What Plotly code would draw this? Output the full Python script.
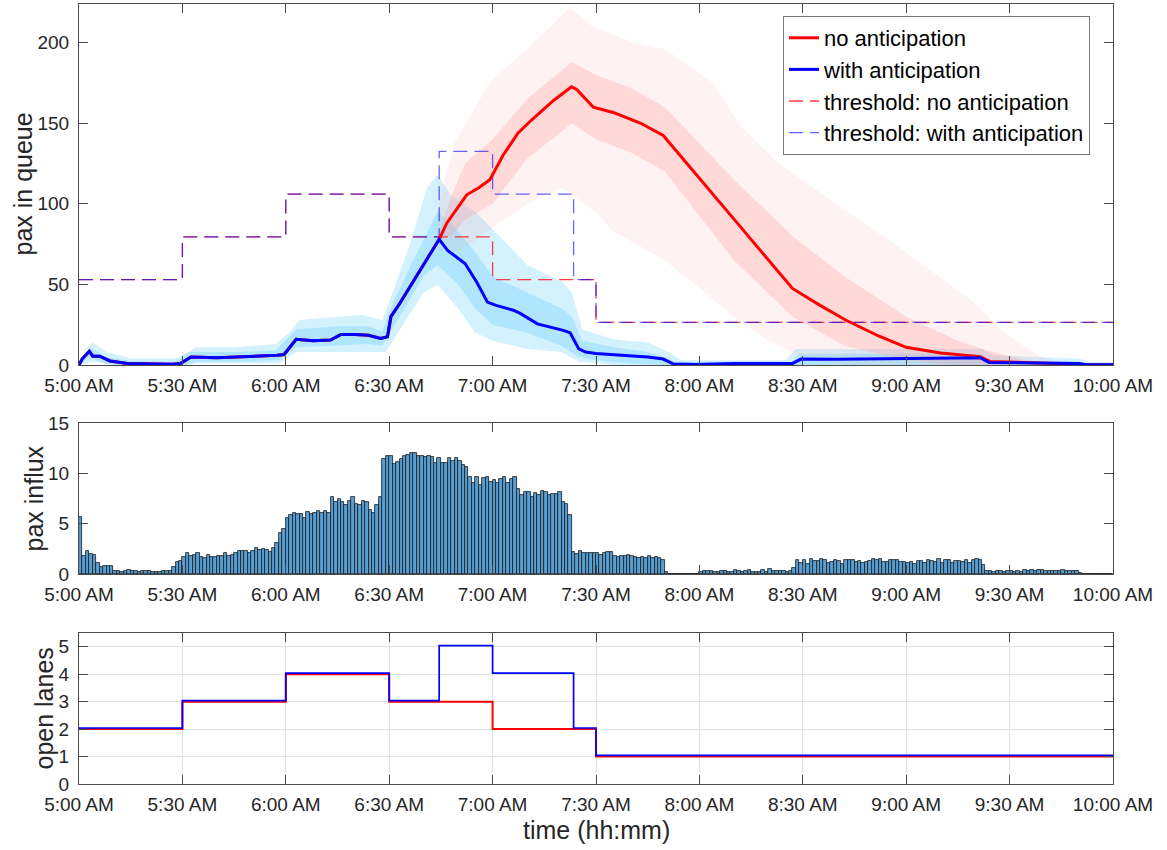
import plotly.graph_objects as go

# ---------------- data ----------------
tick_vals = [0, 30, 60, 90, 120, 150, 180, 210, 240, 270, 300]
tick_text = ["5:00 AM", "5:30 AM", "6:00 AM", "6:30 AM", "7:00 AM", "7:30 AM",
             "8:00 AM", "8:30 AM", "9:00 AM", "9:30 AM", "10:00 AM"]

# mean queue length (minutes after 5:00 AM, pax) - common part before 6:45
t_common = [0, 1, 3, 4, 6, 9, 14, 20, 27, 29.5, 32.5, 40, 45, 50, 57.5, 59.5, 63, 68, 73,
            76, 80, 84, 87.5, 89.5, 90.5, 93, 104.5]
q_common = [0, 4, 8.5, 5.5, 5.5, 2.5, 1, 0.7, 0.5, 1, 5, 4.5, 4.8, 5.5, 6, 6.5, 16, 15, 15.5,
            19, 19, 18.5, 16.5, 17.5, 30, 38, 78]
# with anticipation, after 6:45
t_with_tail = [107, 112, 115.5, 118.5, 121, 126, 128, 133, 140.5, 142.5, 145, 147, 150, 155,
               165, 169.5, 172.5, 179, 190, 207, 209.5, 220, 240, 261.5, 264, 275, 290, 292.5, 300]
q_with_tail = [71, 63, 51, 39, 37, 34, 32, 25.5, 21.5, 20, 10, 8, 7.2, 6.4,
               5, 3.7, 0.6, 0.3, 1, 1, 3.7, 3.5, 4.2, 4.5, 1.6, 1.2, 1, 0.2, 0.2]
# no anticipation, after 6:45
t_no_tail = [106.7, 112.5, 116, 119.2, 123, 127.4, 131.3, 137.6, 142.9, 144.4, 149.2, 155,
             163, 169.5, 191.8, 207, 215, 222.7, 232, 240, 250, 261.4, 264.3, 277, 290, 292, 300]
q_no_tail = [88, 105.6, 110, 115, 130, 144, 152, 164, 172.6, 171, 160, 156.7,
             150, 142.4, 86, 47.5, 37, 27.6, 18, 11, 7.5, 5.2, 2.2, 1.5, 0.5, 0.1, 0.1]

# spread of simulated runs (with anticipation) - outer and dense core envelopes
bw_out_up_t = [0, 2, 4, 8, 15, 28, 31, 34, 45, 57, 61, 64, 75, 82, 88, 91, 96, 101, 104, 108,
               115, 122, 130, 140, 143, 146, 155, 165, 171, 175, 205, 208, 262, 265, 290, 293, 300]
bw_out_up = [0, 10, 14, 8, 4, 4, 7, 11, 11, 13, 20, 28, 30, 31, 28, 45, 75, 110, 118, 105,
             95, 80, 62, 52, 45, 22, 16, 14, 8, 3, 3, 10, 10, 6, 4, 2, 2]
bw_out_lo_t = [0, 4, 8, 12, 31, 34, 45, 58, 63, 75, 86, 89, 92, 100, 104, 110, 115, 120, 130,
               140, 145, 150, 155, 300]
bw_out_lo = [0, 2, 1, 0, 0, 1, 1, 1, 8, 8, 8, 8, 18, 45, 50, 35, 20, 15, 10, 8, 2, 1, 0, 0]
bw_in_up_t = [0, 3, 8, 15, 28, 32, 45, 57, 63, 75, 84, 88, 91, 97, 104, 108, 115, 120, 130,
              140, 143, 146, 155, 165, 170, 173, 207, 209, 262, 264, 290, 293, 300]
bw_in_up = [0, 11, 5, 2.5, 2, 8, 8, 9, 22, 24, 24, 21, 38, 65, 95, 88, 70, 55, 45,
            35, 30, 15, 11, 8, 5, 2, 2, 7, 7, 3, 2, 0.5, 0.5]
bw_in_lo_t = [0, 3, 8, 12, 31, 34, 45, 58, 63, 75, 84, 88, 91, 100, 104, 110, 115, 120, 130,
              140, 145, 150, 160, 170, 300]
bw_in_lo = [0, 5, 0.5, 0, 0, 2, 2, 3, 11, 12, 13, 12, 23, 55, 62, 50, 35, 25, 20,
            12, 5, 3, 1, 0, 0]

# spread of simulated runs (no anticipation)
bn_out_up_t = [104, 106, 109, 119, 131, 142.5, 149, 161, 170, 184, 192, 203, 221, 240, 259,
               269, 279, 288]
bn_out_up = [95, 115, 138, 175, 198, 222, 210, 200, 196, 175, 148, 125, 98, 70, 40, 19, 5, 0.5]
bn_out_lo_t = [104, 110, 120, 130, 140, 150, 155, 170, 180, 190, 200, 207, 215, 225, 288]
bn_out_lo = [72, 70, 85, 100, 110, 95, 83, 65, 48, 30, 15, 8, 2, 0, 0]
bn_in_up_t = [104, 108, 112, 120, 130, 143, 150, 160, 170, 190, 207, 222, 240, 255, 265, 275, 285]
bn_in_up = [78, 105, 125, 140, 165, 188, 180, 172, 160, 115, 80, 55, 30, 15, 8, 3, 0.5]
bn_in_lo_t = [104, 108, 112, 120, 130, 143, 150, 160, 170, 190, 207, 222, 240, 250, 260, 285]
bn_in_lo = [78, 80, 90, 100, 128, 150, 140, 132, 120, 65, 30, 12, 3, 0.5, 0, 0]

# thresholds and open lanes (step functions)
t_steps_no = [0, 30, 60, 90, 120, 150, 300]
thr_no = [53, 79.5, 106, 79.5, 53, 26.5, 26.5]
lanes_no = [2, 3, 4, 3, 2, 1, 1]
t_steps_with = [0, 30, 60, 90, 104.5, 120, 143.5, 150, 300]
thr_with = [53, 79.5, 106, 79.5, 132.5, 106, 53, 26.5, 26.5]
lanes_with = [2, 3, 4, 3, 5, 4, 2, 1, 1]

# passenger influx per minute (minutes 0..299)
influx = [
    5.67, 1.8, 2.27, 2.0, 1.9, 1.1, 0.73, 0.77, 0.77, 0.77,
    0.3, 0.3, 0.23, 0.33, 0.4, 0.3, 0.3, 0.23, 0.3, 0.27,
    0.3, 0.2, 0.2, 0.23, 0.3, 0.3, 0.27, 0.67, 1.17, 1.33,
    1.73, 2.1, 1.83, 1.9, 2.1, 1.67, 1.6, 1.9, 1.73, 1.73,
    1.8, 1.8, 2.07, 1.83, 1.9, 2.13, 2.3, 2.33, 2.33, 2.13,
    2.33, 2.57, 2.4, 2.5, 2.4, 2.23, 2.6, 3.07, 4.07, 4.43,
    5.6, 5.9, 6.1, 5.93, 5.93, 5.6, 6.17, 6.0, 6.07, 6.27,
    6.1, 6.27, 6.07, 7.6, 7.17, 7.43, 7.17, 6.9, 7.27, 7.6,
    7.0, 6.9, 7.27, 7.17, 6.33, 6.1, 6.9, 7.6, 11.43, 11.73,
    11.73, 10.9, 11.1, 11.43, 11.73, 11.83, 12.0, 12.07, 11.73, 11.77,
    11.6, 11.77, 11.67, 11.0, 11.5, 11.07, 11.07, 11.57, 11.27, 11.57,
    11.27, 10.83, 10.6, 9.67, 9.0, 9.67, 8.83, 9.5, 9.67, 9.17,
    9.33, 9.0, 9.43, 9.6, 9.0, 9.43, 9.67, 8.43, 7.83, 8.17,
    8.1, 7.6, 8.07, 7.83, 8.27, 8.17, 7.83, 7.9, 7.9, 8.1,
    7.17, 7.0, 5.83, 2.17, 2.0, 2.27, 2.1, 2.1, 2.1, 2.07,
    2.07, 1.9, 2.07, 2.17, 2.23, 1.77, 1.73, 1.8, 1.8, 1.9,
    1.77, 1.67, 1.6, 1.67, 1.6, 1.8, 1.6, 1.7, 1.6, 1.43,
    0.17, 0, 0, 0, 0, 0, 0, 0, 0, 0,
    0.23, 0.33, 0.27, 0.3, 0.23, 0.17, 0.3, 0.3, 0.23, 0.23,
    0.4, 0.3, 0.23, 0.3, 0.4, 0.23, 0.23, 0.23, 0.4, 0.23,
    0.5, 0.27, 0.3, 0.3, 0.3, 0.23, 0.3, 0.6, 1.4, 1.1,
    1.37, 1.03, 1.5, 1.33, 1.33, 1.5, 1.37, 1.13, 1.23, 1.37,
    1.3, 1.0, 1.37, 1.37, 1.37, 1.17, 1.3, 1.13, 1.23, 1.3,
    1.5, 1.43, 1.47, 1.23, 1.23, 1.4, 1.4, 1.37, 1.2, 1.2,
    1.13, 1.17, 1.0, 1.27, 1.3, 1.13, 1.37, 1.3, 1.23, 1.5,
    1.13, 1.37, 1.37, 1.13, 1.27, 1.27, 1.23, 1.4, 1.1, 1.4,
    1.47, 1.4, 0.9, 0.3, 0.3, 0.23, 0.3, 0.3, 0.23, 0.27,
    0.27, 0.23, 0.3, 0.23, 0.4, 0.33, 0.43, 0.33, 0.43, 0.37,
    0.27, 0.27, 0.27, 0.33, 0.33, 0.4, 0.33, 0.33, 0.33, 0.27,
    0.07, 0, 0, 0, 0, 0, 0, 0, 0, 0,
]
influx_t = [m + 0.5 for m in range(len(influx))]

# ---------------- figure ----------------
FONT = "Liberation Sans, Arial, Helvetica, sans-serif"
TXT = "#262626"
W, H = 1167, 850
ML, MR, MT, MB = 79, 54, 4, 66
plot_h = H - MT - MB


def dom(y_top_px, y_bot_px):
    return [(H - MB - y_bot_px) / plot_h, (H - MB - y_top_px) / plot_h]


d_top = dom(4, 365)
d_mid = dom(423, 574)
d_bot = dom(633, 784)

fig = go.Figure()


def band(tu, vu, tl, vl, color, xa, ya):
    fig.add_trace(go.Scatter(x=tu + tl[::-1], y=vu + vl[::-1], fill="toself",
                             fillcolor=color, line=dict(width=0), mode="lines",
                             hoverinfo="skip", showlegend=False, xaxis=xa, yaxis=ya))


# clouds of simulated runs
band(bw_out_up_t, bw_out_up, bw_out_lo_t, bw_out_lo, "rgba(160,225,252,0.45)", "x", "y")
band(bw_in_up_t, bw_in_up, bw_in_lo_t, bw_in_lo, "rgba(160,225,252,0.7)", "x", "y")
band(bn_out_up_t, bn_out_up, bn_out_lo_t, bn_out_lo, "rgba(255,150,150,0.12)", "x", "y")
band(bn_in_up_t, bn_in_up, bn_in_lo_t, bn_in_lo, "rgba(255,150,150,0.28)", "x", "y")

# thresholds
fig.add_trace(go.Scatter(x=t_steps_no, y=thr_no, mode="lines", line_shape="hv",
                         line=dict(color="rgba(255,0,0,0.75)", width=1.3, dash="14px,7px"),
                         name="threshold: no anticipation", legendrank=3,
                         xaxis="x", yaxis="y"))
fig.add_trace(go.Scatter(x=t_steps_with, y=thr_with, mode="lines", line_shape="hv",
                         line=dict(color="rgba(0,0,255,0.6)", width=1.3, dash="14px,7px"),
                         name="threshold: with anticipation", legendrank=4,
                         xaxis="x", yaxis="y"))
# mean lines
fig.add_trace(go.Scatter(x=t_common + t_no_tail, y=q_common + q_no_tail, mode="lines",
                         line=dict(color="#ff0000", width=3), name="no anticipation",
                         legendrank=1, xaxis="x", yaxis="y"))
fig.add_trace(go.Scatter(x=t_common + t_with_tail, y=q_common + q_with_tail, mode="lines",
                         line=dict(color="#0000ff", width=3), name="with anticipation",
                         legendrank=2, xaxis="x", yaxis="y"))

# influx bars
fig.add_trace(go.Bar(x=influx_t, y=influx, width=1,
                     marker=dict(color="rgb(86,158,211)", line=dict(color="rgb(25,25,25)", width=0.8)),
                     showlegend=False, xaxis="x2", yaxis="y2"))

# open lanes
LANE_OFFSET = 0.04
fig.add_trace(go.Scatter(x=t_steps_no, y=lanes_no, mode="lines", line_shape="hv",
                         line=dict(color="#ff0000", width=2), showlegend=False,
                         xaxis="x3", yaxis="y3"))
fig.add_trace(go.Scatter(x=t_steps_with, y=[v + LANE_OFFSET for v in lanes_with], mode="lines",
                         line_shape="hv", line=dict(color="#0000ff", width=1.7),
                         showlegend=False, xaxis="x3", yaxis="y3"))

axis_common = dict(showline=True, linecolor="#4a4a4a", linewidth=1, mirror="ticks",
                   ticks="inside", ticklen=9, tickcolor="#4a4a4a", tickwidth=1,
                   zeroline=False, automargin=False,
                   tickfont=dict(family=FONT, size=19, color=TXT))

xcommon = dict(axis_common, range=[0, 300], tickvals=tick_vals, ticktext=tick_text,
               ticklabelstandoff=3)

fig.update_layout(
    width=W, height=H,
    margin=dict(l=ML, r=MR, t=MT, b=MB, autoexpand=False),
    paper_bgcolor="white", plot_bgcolor="white",
    font=dict(family=FONT, color=TXT),
    bargap=0,
    showlegend=True,
    xaxis=dict(xcommon, domain=[0, 1], anchor="y", showgrid=False),
    yaxis=dict(axis_common, domain=d_top, anchor="x", range=[0, 224],
               tickvals=[0, 50, 100, 150, 200], showgrid=False, ticklabelstandoff=5),
    xaxis2=dict(xcommon, domain=[0, 1], anchor="y2", showgrid=False),
    yaxis2=dict(axis_common, domain=d_mid, anchor="x2", range=[0, 15],
                tickvals=[0, 5, 10, 15], showgrid=False, ticklabelstandoff=5),
    xaxis3=dict(xcommon, domain=[0, 1], anchor="y3", showgrid=True,
                gridcolor="rgb(226,226,226)", gridwidth=1),
    yaxis3=dict(axis_common, domain=d_bot, anchor="x3", range=[0, 5.5],
                tickvals=[0, 1, 2, 3, 4, 5], showgrid=True,
                gridcolor="rgb(226,226,226)", gridwidth=1, ticklabelstandoff=5),
    legend=dict(x=(1090 - ML) / (W - ML - MR), y=(H - MB - 16) / plot_h,
                xanchor="right", yanchor="top", bgcolor="white",
                bordercolor="#7a7a7a", borderwidth=1, traceorder="normal",
                font=dict(family=FONT, size=22, color="#000000"),
                tracegroupgap=0),
)


def px_x(px):
    return (px - ML) / (W - ML - MR)


ann = dict(xref="paper", yref="paper", showarrow=False,
           font=dict(family=FONT, size=25, color=TXT))
fig.add_annotation(ann, text="pax in queue", x=px_x(22), y=sum(d_top) / 2,
                   textangle=-90, xanchor="center", yanchor="middle")
fig.add_annotation(ann, text="pax influx", x=px_x(33), y=sum(d_mid) / 2,
                   textangle=-90, xanchor="center", yanchor="middle")
fig.add_annotation(ann, text="open lanes", x=px_x(43), y=sum(d_bot) / 2,
                   textangle=-90, xanchor="center", yanchor="middle")
fig.add_annotation(ann, text="time (hh:mm)", x=0.5, y=(H - MB - 830) / plot_h,
                   xanchor="center", yanchor="middle")

fig.write_html("out.html")
